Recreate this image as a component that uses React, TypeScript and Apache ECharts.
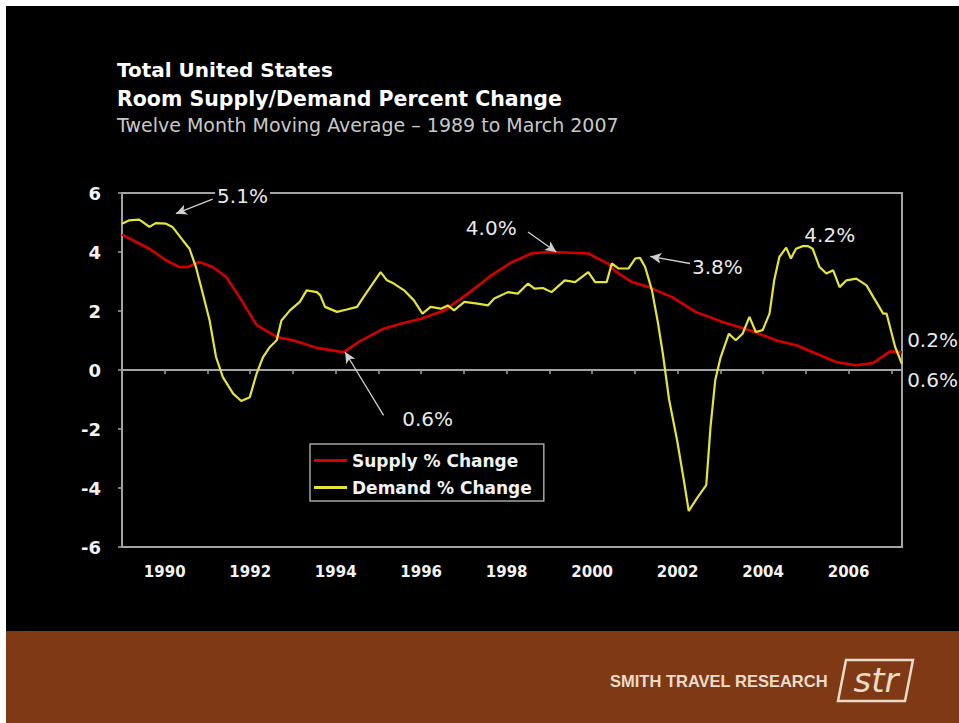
import { useEffect, useRef } from 'react';
import * as echarts from 'echarts';

// Twelve-month moving average, percent change, [decimal year, value]
const supplySeries: [number, number][] = [
  [1989.0, 4.59], [1989.64, 4.11], [1990.03, 3.72], [1990.34, 3.49], [1990.54, 3.49],
  [1990.81, 3.66], [1991.12, 3.49], [1991.44, 3.15], [1991.75, 2.47], [1992.15, 1.52],
  [1992.62, 1.12], [1993.0, 1.01], [1993.56, 0.75], [1994.18, 0.6], [1994.58, 0.99],
  [1995.12, 1.4], [1995.52, 1.57], [1995.99, 1.74], [1996.54, 2.02], [1997.09, 2.59],
  [1997.4, 2.93], [1997.64, 3.21], [1998.11, 3.65], [1998.58, 3.95], [1998.97, 4.0],
  [1999.12, 4.0], [1999.91, 3.95], [2000.38, 3.6], [2000.54, 3.35], [2000.93, 2.98],
  [2001.32, 2.81], [2001.87, 2.47], [2002.42, 1.97], [2003.05, 1.63], [2003.68, 1.35],
  [2004.3, 1.01], [2004.77, 0.84], [2005.24, 0.56], [2005.71, 0.27], [2006.18, 0.16],
  [2006.58, 0.24], [2006.97, 0.63], [2007.25, 0.6],
];

const demandSeries: [number, number][] = [
  [1989.0, 4.96], [1989.16, 5.07], [1989.4, 5.1], [1989.48, 5.02], [1989.64, 4.85],
  [1989.79, 4.98], [1990.03, 4.96], [1990.18, 4.85], [1990.42, 4.4], [1990.58, 4.11],
  [1990.73, 3.49], [1990.89, 2.59], [1991.05, 1.68], [1991.2, 0.44], [1991.36, -0.24],
  [1991.6, -0.8], [1991.79, -1.05], [1991.99, -0.92], [1992.15, -0.12], [1992.3, 0.44],
  [1992.46, 0.78], [1992.62, 1.01], [1992.73, 1.68], [1992.93, 2.02], [1993.16, 2.31],
  [1993.32, 2.7], [1993.56, 2.64], [1993.64, 2.53], [1993.75, 2.14], [1994.03, 1.97],
  [1994.26, 2.05], [1994.5, 2.14], [1994.65, 2.47], [1994.81, 2.81], [1995.05, 3.32],
  [1995.2, 3.04], [1995.36, 2.93], [1995.6, 2.7], [1995.83, 2.36], [1996.03, 1.91],
  [1996.22, 2.14], [1996.46, 2.08], [1996.62, 2.19], [1996.77, 2.02], [1997.01, 2.31],
  [1997.32, 2.25], [1997.56, 2.19], [1997.71, 2.42], [1998.03, 2.64], [1998.26, 2.59],
  [1998.5, 2.93], [1998.65, 2.76], [1998.85, 2.78], [1999.05, 2.64], [1999.36, 3.04],
  [1999.6, 2.98], [1999.91, 3.32], [2000.07, 2.98], [2000.34, 2.98], [2000.46, 3.61],
  [2000.62, 3.44], [2000.85, 3.44], [2001.01, 3.78], [2001.12, 3.8], [2001.24, 3.49],
  [2001.4, 2.7], [2001.54, 1.6], [2001.66, 0.5], [2001.8, -1.0], [2001.99, -2.4],
  [2002.13, -3.6], [2002.26, -4.78], [2002.45, -4.35], [2002.67, -3.9], [2002.77, -1.93],
  [2002.88, -0.35], [2003.0, 0.4], [2003.2, 1.23], [2003.36, 1.01], [2003.52, 1.23],
  [2003.68, 1.8], [2003.83, 1.29], [2003.99, 1.35], [2004.15, 1.91], [2004.26, 3.04],
  [2004.38, 3.83], [2004.54, 4.15], [2004.65, 3.78], [2004.77, 4.11], [2004.93, 4.2],
  [2005.05, 4.2], [2005.16, 4.11], [2005.32, 3.49], [2005.48, 3.27], [2005.64, 3.38],
  [2005.79, 2.81], [2005.95, 3.04], [2006.18, 3.1], [2006.42, 2.87], [2006.58, 2.47],
  [2006.81, 1.91], [2006.89, 1.91], [2007.09, 0.78], [2007.25, 0.2],
];

const seriesNames = ['Supply % Change', 'Demand % Change'];
const yearLabels = ['1990', '1992', '1994', '1996', '1998', '2000', '2002', '2004', '2006'];
const valueTicks = [-6, -4, -2, 0, 2, 4, 6];

const titleLines = ['Total United States', 'Room Supply/Demand Percent Change'];
const subtitle = 'Twelve Month Moving Average \u2013 1989 to March 2007';
const brandName = 'SMITH TRAVEL RESEARCH';
const brandMark = 'str';

// Callout labels, anchored in data space
const calloutLabels = ['5.1%', '4.0%', '3.8%', '4.2%', '0.6%', '0.2%', '0.6%'];
const calloutAnchors: [number, number][] = [
  [1991.82, 5.89], [1997.64, 4.83], [2002.93, 3.49], [2005.56, 4.57],
  [1996.15, -1.65], [2007.37, 1.03], [2007.37, -0.35],
];
const calloutAlign = ['center', 'center', 'center', 'center', 'center', 'left', 'left'];
// Leader arrows: from, to, curveness
const calloutArrows: [[number, number], [number, number], number][] = [
  [[1991.12, 5.79], [1990.26, 5.3], -0.25],
  [[1998.5, 4.68], [1999.16, 4.0], 0],
  [[2002.29, 3.61], [2001.36, 3.85], 0],
  [[1995.12, -1.54], [1994.22, 0.61], 0],
];

const AXIS_GREY = '#a3a3a3';
const FONT = '"DejaVu Sans", sans-serif';

export default function App() {
  const ref = useRef<HTMLDivElement>(null);

  useEffect(() => {
    const el = ref.current;
    if (!el) return;
    const chart = echarts.init(el, null, { renderer: 'svg' });

    chart.setOption({
      animation: false,
      backgroundColor: 'transparent',
      grid: {
        left: 122,
        top: 193,
        width: 780,
        height: 354,
        show: true,
        borderColor: AXIS_GREY,
        borderWidth: 2,
        backgroundColor: 'transparent',
      },
      legend: {
        data: seriesNames,
        orient: 'vertical',
        left: 310,
        top: 444,
        icon: 'rect',
        itemWidth: 33,
        itemHeight: 3,
        itemGap: 10,
        padding: [8, 12, 5, 4],
        backgroundColor: '#000',
        borderColor: AXIS_GREY,
        borderWidth: 1.5,
        borderRadius: 0,
        selectedMode: false,
        textStyle: { color: '#f2f2f2', fontFamily: FONT, fontWeight: 'bold', fontSize: 17 },
      },
      xAxis: [
        {
          type: 'value',
          min: 1989,
          max: 2007.25,
          interval: 1,
          position: 'bottom',
          axisLine: { show: true, onZero: true, lineStyle: { color: AXIS_GREY, width: 2 } },
          axisTick: { show: true, inside: false, length: 4, lineStyle: { color: AXIS_GREY, width: 1.5 } },
          axisLabel: { show: false },
          splitLine: { show: false },
        },
        {
          type: 'value',
          min: 1989,
          max: 2007.25,
          interval: 1,
          position: 'bottom',
          axisLine: { show: false, onZero: false },
          axisTick: { show: false },
          splitLine: { show: false },
          axisLabel: {
            show: true,
            margin: 17,
            color: '#f2f2f2',
            fontFamily: FONT,
            fontWeight: 'bold',
            fontSize: 15,
            showMinLabel: true,
            showMaxLabel: true,
            formatter: (v: number) => {
              const s = String(Math.round(v));
              return Math.abs(v - Math.round(v)) < 1e-6 && yearLabels.includes(s) ? s : '';
            },
          },
        },
      ],
      yAxis: {
        type: 'value',
        min: valueTicks[0],
        max: valueTicks[valueTicks.length - 1],
        interval: 2,
        axisLine: { show: true, onZero: false, lineStyle: { color: AXIS_GREY, width: 2 } },
        axisTick: { show: true, inside: false, length: 4, lineStyle: { color: AXIS_GREY, width: 1.5 } },
        axisLabel: { color: '#f2f2f2', fontFamily: FONT, fontWeight: 'bold', fontSize: 18, margin: 21 },
        splitLine: { show: false },
      },
      series: [
        {
          name: seriesNames[0],
          type: 'line',
          xAxisIndex: 0,
          data: supplySeries,
          color: '#d40000',
          showSymbol: false,
          symbol: 'none',
          lineStyle: { color: '#d40000', width: 2.6 },
          emphasis: { disabled: true },
          z: 3,
          markLine: {
            silent: true,
            symbol: ['none', 'arrow'],
            symbolSize: [8, 11],
            label: { show: false },
            emphasis: { disabled: true },
            lineStyle: { color: '#cfcfcf', width: 1.3, type: 'solid' },
            data: calloutArrows.map(([from, to, curve]) => [
              { coord: from, lineStyle: { curveness: curve } },
              { coord: to },
            ]),
          },
        },
        {
          name: seriesNames[1],
          type: 'line',
          xAxisIndex: 0,
          data: demandSeries,
          color: '#e4e43a',
          showSymbol: false,
          symbol: 'none',
          lineStyle: { color: '#e4e43a', width: 2.2 },
          emphasis: { disabled: true },
          z: 4,
        },
      ],
    });

    const staticGraphics = [
      {
        type: 'text',
        x: 117,
        y: 70,
        style: { text: titleLines[0], fill: '#ffffff', fontFamily: FONT, fontWeight: 'bold', fontSize: 20, verticalAlign: 'middle', align: 'left' },
      },
      {
        type: 'text',
        x: 117,
        y: 99,
        style: { text: titleLines[1], fill: '#ffffff', fontFamily: FONT, fontWeight: 'bold', fontSize: 20.5, verticalAlign: 'middle', align: 'left' },
      },
      {
        type: 'text',
        x: 117,
        y: 125,
        style: { text: subtitle, fill: '#c8c8c8', fontFamily: FONT, fontSize: 19, verticalAlign: 'middle', align: 'left' },
      },
      {
        type: 'text',
        x: 610,
        y: 681,
        style: { text: brandName, fill: '#eadccb', fontFamily: '"Liberation Sans", Arial, sans-serif', fontWeight: 'bold', fontSize: 16.5, verticalAlign: 'middle', align: 'left' },
      },
      {
        type: 'polygon',
        shape: { points: [[846, 660], [913, 660], [905, 701], [838, 701]] },
        style: { fill: 'none', stroke: '#eadccb', lineWidth: 2.5 },
      },
      {
        type: 'text',
        x: 876,
        y: 680,
        style: { text: brandMark, fill: '#eadccb', fontFamily: FONT, fontStyle: 'italic', fontSize: 34, verticalAlign: 'middle', align: 'center' },
      },
    ];

    const callouts = calloutLabels.map((label, i) => {
      const p = chart.convertToPixel({ seriesIndex: 0 }, calloutAnchors[i]) as number[];
      const style: Record<string, unknown> = {
        text: label,
        fill: '#e8e8e8',
        fontFamily: FONT,
        fontSize: 20,
        align: calloutAlign[i],
        verticalAlign: 'middle',
      };
      if (i === 0) {
        style.backgroundColor = '#000';
        style.padding = [0, 2, 0, 2];
      }
      return { type: 'text', x: p[0], y: p[1], z: 20, style };
    });

    chart.setOption({ graphic: [...staticGraphics, ...callouts] });

    return () => chart.dispose();
  }, []);

  return (
    <div style={{ position: 'absolute', left: 0, top: 0, width: 959, height: 723, background: '#fff', overflow: 'hidden' }}>
      <div style={{ position: 'absolute', left: 6, top: 6, right: 0, height: 625, background: '#000' }} />
      <div style={{ position: 'absolute', left: 6, top: 631, right: 0, bottom: 0, background: '#7f3a15' }} />
      <div ref={ref} style={{ position: 'absolute', left: 0, top: 0, width: 959, height: 723 }} />
    </div>
  );
}
